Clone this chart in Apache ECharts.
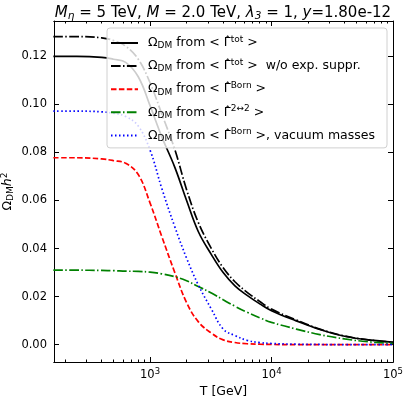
<!DOCTYPE html>
<html>
<head>
<meta charset="utf-8">
<script src="https://cdn.jsdelivr.net/npm/echarts@6/dist/echarts.min.js"></script>
<style>
  html, body { margin: 0; padding: 0; background: #fff; }
  #chart { width: 403px; height: 397px; }
</style>
</head>
<body>
<div id="chart"></div>
<script>
// temperatures in GeV
const temps = [160, 250, 400, 500, 630, 800, 1000, 1250, 1600, 2000, 2500, 3200, 4000, 5000, 6300, 8000, 10000, 16000, 25000, 40000, 63000, 100000]

const omegaTot = [0.1200, 0.1200, 0.1196, 0.1188, 0.1175, 0.1115, 0.0995, 0.0865, 0.0738, 0.0600, 0.0470, 0.0375, 0.0300, 0.0245, 0.0205, 0.0170, 0.0141, 0.0099, 0.0063, 0.0035, 0.0020, 0.0011]
const omegaNoExp = [0.1282, 0.1282, 0.1277, 0.1266, 0.1242, 0.1188, 0.1090, 0.0960, 0.0812, 0.0645, 0.0508, 0.0400, 0.0320, 0.0262, 0.0218, 0.0180, 0.0148, 0.0103, 0.0065, 0.0036, 0.0020, 0.0011]
const omegaBorn = [0.0778, 0.0778, 0.0773, 0.0766, 0.0755, 0.0708, 0.0590, 0.0450, 0.0300, 0.0175, 0.0095, 0.0048, 0.0020, 0.0009, 0.0004, 0.0002, 0.0001, 0, 0, 0, 0, 0]
const omega22 = [0.0310, 0.0310, 0.0309, 0.0308, 0.0306, 0.0305, 0.0302, 0.0295, 0.0283, 0.0266, 0.0242, 0.0215, 0.0187, 0.0160, 0.0135, 0.0112, 0.0093, 0.0065, 0.0042, 0.0024, 0.0012, 0.0005]
const omegaVac = [0.0972, 0.0972, 0.0969, 0.0963, 0.0950, 0.0910, 0.0810, 0.0650, 0.0490, 0.0360, 0.0248, 0.0148, 0.0065, 0.0038, 0.0018, 0.0009, 0.0005, 0.0002, 0.0001, 0, 0, 0]

const xMajor = [1000, 10000, 100000]
const xMinor = [200, 300, 400, 500, 600, 700, 800, 900,
  2000, 3000, 4000, 5000, 6000, 7000, 8000, 9000,
  20000, 30000, 40000, 50000, 60000, 70000, 80000, 90000]
const yTicks = [0, 0.02, 0.04, 0.06, 0.08, 0.10, 0.12]

const xMin = Math.log10(162)
const xMax = 5
const yMin = -0.0072
const yMax = 0.1347

const font = 'DejaVu Sans'

function pts(vals) {
  return temps.map((t, i) => [Math.log10(t), vals[i]])
}

const legendText = {
  tot: '{t|Ω}{sub|DM}{t| from < Γ\u0302}{sup|tot}{t| >}',
  noexp: '{t|Ω}{sub|DM}{t| from < Γ\u0302}{sup|tot}{t| >  w/o exp. suppr.}',
  born: '{t|Ω}{sub|DM}{t| from < Γ\u0302}{sup|Born}{t| >}',
  g22: '{t|Ω}{sub|DM}{t| from < Γ\u0302}{sup|2↔2}{t| >}',
  vac: '{t|Ω}{sub|DM}{t| from < Γ\u0302}{sup|Born}{t| >, vacuum masses}'
}

function line(name, vals, color, dash) {
  return {
    name: name,
    type: 'line',
    data: pts(vals),
    symbol: 'none',
    smooth: 0.4,
    lineStyle: { color: color, width: 1.7, type: dash },
    itemStyle: { color: color },
    z: 3
  }
}

function xAxisDef(pos, ticks, len, labels) {
  return {
    type: 'value',
    position: pos,
    min: xMin,
    max: xMax,
    axisLine: { show: true, onZero: false, lineStyle: { color: '#000', width: 1 } },
    axisTick: {
      show: true, inside: true, length: len,
      customValues: ticks.map(v => Math.log10(v)),
      lineStyle: { color: '#000', width: 1 }
    },
    axisLabel: labels ? {
      show: true,
      customValues: ticks.map(v => Math.log10(v)),
      margin: 5,
      formatter: v => '{b|10}{s|' + Math.round(v) + '}',
      rich: {
        b: { fontFamily: font, fontSize: 11.5, color: '#000' },
        s: { fontFamily: font, fontSize: 8.5, color: '#000', padding: [0, 0, 7, 0] }
      }
    } : { show: false },
    splitLine: { show: false }
  }
}

function yAxisDef(pos, labels) {
  return {
    type: 'value',
    position: pos,
    min: yMin,
    max: yMax,
    axisLine: { show: true, onZero: false, lineStyle: { color: '#000', width: 1 } },
    axisTick: {
      show: true, inside: true, length: 5,
      customValues: yTicks,
      lineStyle: { color: '#000', width: 1 }
    },
    axisLabel: labels ? {
      show: true,
      customValues: yTicks,
      margin: 7,
      fontFamily: font,
      fontSize: 11.5,
      color: '#000',
      formatter: v => v.toFixed(2)
    } : { show: false },
    splitLine: { show: false }
  }
}

const chart = echarts.init(document.getElementById('chart'), null, { renderer: 'canvas' })

const option = {
  backgroundColor: '#fff',
  animation: false,
  title: {
    text: '{i|M}{sub|η}{n| = 5 TeV, }{i|M}{n| = 2.0 TeV, }{i|λ}{sub|3}{n| = 1, }{i|y}{n|=1.80e-12}',
    left: 218,
    top: 0,
    textAlign: 'center',
    textStyle: {
      fontWeight: 'normal',
      rich: {
        n: { fontFamily: font, fontSize: 15, fontWeight: 'normal', color: '#000' },
        i: { fontFamily: font, fontSize: 15, fontWeight: 'normal', fontStyle: 'italic', color: '#000' },
        sub: { fontFamily: font, fontSize: 10.5, fontWeight: 'normal', fontStyle: 'italic', color: '#000', padding: [6, 0, 0, 0] }
      }
    }
  },
  grid: { left: 54, right: 10, top: 21, bottom: 35, containLabel: false, outerBoundsMode: 'none' },
  legend: {
    orient: 'vertical',
    left: 107,
    top: 28,
    padding: [7, 12, 5, 3],
    itemWidth: 27,
    itemHeight: 14,
    itemGap: 7.6,
    backgroundColor: 'rgba(255,255,255,0.8)',
    borderColor: '#d0d0d0',
    borderWidth: 1,
    borderRadius: 3,
    itemStyle: { opacity: 0 },
    data: ['tot', 'noexp', 'born', 'g22', 'vac'],
    formatter: n => legendText[n],
    textStyle: {
      padding: [0, 0, 0, 5],
      rich: {
        t: { fontFamily: font, fontSize: 12.5, color: '#000' },
        sub: { fontFamily: font, fontSize: 9, color: '#000', padding: [6, 0, 0, 0] },
        sup: { fontFamily: font, fontSize: 9, color: '#000', padding: [0, 0, 7, 0] }
      }
    }
  },
  xAxis: [
    Object.assign(xAxisDef('bottom', xMajor, 5, true), {
      name: 'T [GeV]',
      nameLocation: 'middle',
      nameGap: 23,
      nameMoveOverlap: false,
      nameTextStyle: { fontFamily: font, fontSize: 12.5, color: '#000' }
    }),
    xAxisDef('bottom', xMinor, 2.5, false),
    xAxisDef('top', xMajor, 5, false),
    xAxisDef('top', xMinor, 2.5, false)
  ],
  yAxis: [
    Object.assign(yAxisDef('left', true), {
      name: '{t|Ω}{sub|DM}{i|h}{sup|2}',
      nameLocation: 'middle',
      nameRotate: 90,
      nameGap: 38,
      nameMoveOverlap: false,
      nameTextStyle: {
        rich: {
          t: { fontFamily: font, fontSize: 12.5, color: '#000' },
          i: { fontFamily: font, fontSize: 12.5, fontStyle: 'italic', color: '#000' },
          sub: { fontFamily: font, fontSize: 9, color: '#000', padding: [6, 0, 0, 0] },
          sup: { fontFamily: font, fontSize: 9, color: '#000', padding: [0, 0, 7, 0] }
        }
      }
    }),
    yAxisDef('right', false)
  ],
  series: [
    line('tot', omegaTot, '#000000', 'solid'),
    line('noexp', omegaNoExp, '#000000', [9.6, 2.4, 1.5, 2.4]),
    line('born', omegaBorn, '#ff0000', [5.5, 2.4]),
    line('g22', omega22, '#008000', [9.6, 2.4, 1.5, 2.4]),
    line('vac', omegaVac, '#0000ff', [1.5, 2.5])
  ]
}

chart.setOption(option)
</script>
</body>
</html>
